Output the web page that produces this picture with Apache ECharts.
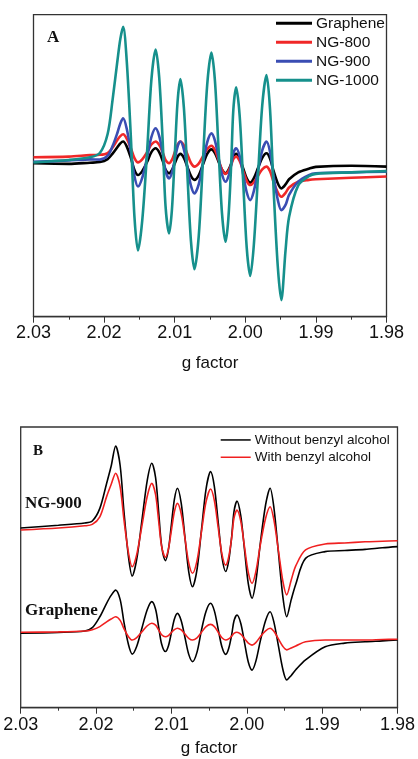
<!DOCTYPE html>
<html><head><meta charset="utf-8">
<script src="https://cdn.jsdelivr.net/npm/echarts@6/dist/echarts.min.js"></script>
<style>html,body{margin:0;padding:0;background:#fff}#c{width:418px;height:759px}</style>
</head><body><div id="c"></div>
<script>
// Panel A: g-factor grid and intensities (arb. units, 0-100 of plot height)
const gA = [2.030, 2.025, 2.022, 2.0206, 2.0195, 2.0188, 2.0181, 2.0177, 2.0173, 2.0168, 2.0162, 2.0157, 2.0152, 2.0146, 2.0139, 2.0133, 2.0127, 2.0122, 2.0117, 2.0113, 2.0108, 2.0104, 2.0100, 2.0096, 2.0092, 2.0087, 2.0082, 2.0077, 2.0072, 2.0066, 2.0060, 2.0054, 2.0048, 2.0043, 2.0038, 2.0033, 2.0028, 2.0024, 2.0020, 2.0017, 2.0013, 2.0008, 2.0003, 1.9998, 1.9993, 1.9988, 1.9982, 1.9976, 1.9970, 1.9965, 1.9960, 1.9954, 1.9949, 1.9943, 1.9938, 1.9925, 1.9910, 1.9900, 1.9850, 1.9800];
const graphene = [50.8, 50.6, 51.0, 51.2, 52.2, 54.0, 56.2, 57.4, 58.0, 56.4, 52.5, 48.6, 46.9, 48.2, 51.3, 54.5, 55.8, 54.5, 51.6, 48.7, 47.5, 48.5, 50.7, 52.9, 53.9, 52.6, 49.6, 46.6, 45.3, 46.8, 50.4, 53.9, 55.4, 54.2, 51.4, 48.7, 47.5, 48.5, 50.7, 52.9, 53.9, 52.5, 49.1, 45.8, 44.4, 45.8, 49.2, 52.6, 54.1, 52.4, 48.3, 44.2, 42.5, 43.8, 45.5, 47.8, 49.0, 49.6, 50.0, 49.7];
const ng800 = [52.8, 53.0, 53.5, 53.6, 54.2, 56.0, 58.6, 59.8, 60.4, 59.0, 55.7, 52.5, 51.1, 52.1, 54.5, 57.0, 58.0, 56.9, 54.4, 51.9, 50.8, 51.9, 54.4, 56.9, 58.0, 56.7, 53.8, 50.9, 49.7, 50.7, 53.1, 55.5, 56.6, 55.2, 52.0, 48.7, 47.3, 48.2, 50.2, 52.2, 53.0, 51.6, 48.3, 45.0, 43.6, 44.5, 46.7, 48.8, 49.7, 48.2, 44.7, 41.2, 39.7, 41.0, 42.8, 44.7, 45.3, 45.5, 46.0, 46.4];
const ng900 = [51.3, 51.7, 52.1, 52.0, 53.3, 56.5, 61.0, 64.0, 65.7, 62.3, 54.4, 46.5, 43.1, 46.0, 52.8, 59.5, 62.4, 59.9, 54.1, 48.3, 45.8, 47.6, 51.9, 56.2, 58.0, 55.4, 49.4, 43.4, 40.8, 43.8, 50.8, 57.7, 60.7, 58.3, 52.7, 47.1, 44.7, 46.4, 50.3, 54.2, 55.8, 53.2, 47.2, 41.2, 38.6, 41.5, 48.3, 55.1, 58.0, 54.6, 46.7, 38.7, 35.3, 37.0, 40.3, 44.7, 46.9, 47.5, 47.8, 48.0];
const ng1000 = [51.1, 51.9, 52.8, 54.2, 60.5, 71.8, 85.0, 92.0, 96.0, 84.9, 59.0, 33.0, 21.9, 31.8, 55.0, 78.5, 88.5, 79.4, 58.0, 36.7, 27.6, 35.2, 53.0, 71.0, 78.7, 69.2, 47.0, 25.1, 15.7, 26.5, 51.6, 76.7, 87.5, 78.1, 56.0, 34.2, 24.8, 32.5, 50.4, 68.3, 76.0, 66.6, 44.7, 22.9, 13.5, 23.5, 46.7, 70.0, 80.0, 68.8, 42.7, 16.7, 5.5, 22.0, 33.0, 43.5, 46.5, 47.3, 47.8, 48.2];

// Panel B
const gB = [2.030, 2.025, 2.0215, 2.0205, 2.0195, 2.0186, 2.0180, 2.0174, 2.0168, 2.0163, 2.0157, 2.0152, 2.0146, 2.0139, 2.0132, 2.0126, 2.0121, 2.0117, 2.0113, 2.0108, 2.0104, 2.0100, 2.0096, 2.0092, 2.0087, 2.0082, 2.0077, 2.0072, 2.0066, 2.0060, 2.0054, 2.0048, 2.0043, 2.0038, 2.0033, 2.0028, 2.0024, 2.0020, 2.0017, 2.0013, 2.0008, 2.0003, 1.9998, 1.9993, 1.9988, 1.9982, 1.9975, 1.9969, 1.9964, 1.9958, 1.9952, 1.9947, 1.9941, 1.9935, 1.9922, 1.9896, 1.9870, 1.9843, 1.9820, 1.9800];
const ng900Without = [64.0, 65.0, 65.8, 66.5, 71.0, 79.9, 86.0, 93.2, 86.2, 70.0, 53.8, 46.9, 52.9, 67.0, 81.1, 87.1, 82.0, 70.0, 57.7, 52.4, 56.3, 65.3, 74.3, 78.2, 72.9, 60.6, 48.4, 43.1, 49.3, 63.6, 78.0, 84.1, 78.8, 66.3, 53.8, 48.5, 52.3, 61.0, 69.8, 73.6, 68.4, 56.3, 44.2, 39.0, 44.9, 58.6, 72.3, 78.2, 71.3, 55.3, 39.3, 32.4, 38.5, 44.0, 53.2, 55.6, 56.0, 56.4, 57.0, 57.4];
const ng900With = [63.3, 64.0, 64.8, 65.3, 68.0, 75.2, 79.5, 83.5, 78.6, 67.0, 55.2, 50.2, 54.6, 65.0, 75.4, 79.9, 75.9, 66.7, 57.5, 53.6, 56.5, 63.2, 69.9, 72.8, 69.1, 60.3, 51.6, 47.9, 52.4, 62.9, 73.4, 77.9, 73.8, 64.3, 54.8, 50.8, 53.7, 60.6, 67.5, 70.4, 66.5, 57.3, 48.2, 44.3, 48.4, 58.0, 67.5, 71.6, 66.9, 56.0, 44.9, 40.2, 45.5, 50.5, 56.2, 58.3, 58.7, 59.1, 59.3, 59.5];
const grWithout = [26.5, 26.8, 27.3, 28.5, 32.4, 37.2, 40.0, 41.9, 38.5, 30.5, 22.5, 19.1, 21.9, 28.5, 35.0, 37.8, 35.1, 28.9, 22.7, 20.0, 22.0, 26.8, 31.6, 33.6, 31.0, 25.0, 19.0, 16.4, 19.8, 27.8, 34.4, 37.2, 34.5, 28.1, 21.7, 19.0, 21.1, 26.0, 30.9, 33.0, 30.1, 23.2, 16.3, 13.4, 16.5, 23.8, 31.1, 34.2, 30.5, 22.0, 13.5, 9.9, 11.5, 13.5, 17.0, 21.7, 23.0, 23.5, 23.8, 24.1];
const grWith = [26.9, 27.0, 27.3, 27.8, 28.9, 30.6, 31.6, 32.4, 31.1, 28.2, 25.3, 24.1, 25.0, 27.1, 29.2, 30.1, 29.4, 27.7, 26.0, 25.3, 25.7, 26.8, 27.8, 28.3, 27.7, 26.2, 24.7, 24.1, 24.9, 26.9, 28.9, 29.7, 28.9, 26.9, 24.9, 24.1, 24.5, 25.5, 26.5, 26.9, 26.2, 24.6, 23.0, 22.3, 23.2, 25.3, 27.4, 28.3, 27.2, 24.5, 21.8, 20.6, 21.3, 22.0, 23.5, 24.1, 24.1, 24.1, 24.3, 24.4];

const xTicks = ['2.03', '2.02', '2.01', '2.00', '1.99', '1.98'];
const namesA = ['Graphene', 'NG-800', 'NG-900', 'NG-1000'];
const namesB = ['Without benzyl alcohol', 'With benzyl alcohol'];

const pair = (g, v) => g.map((x, i) => [x, v[i]]);
const SANS = 'Liberation Sans, Arial, sans-serif';
const SERIF = 'Liberation Serif, Times New Roman, serif';

function xAxisCfg(gi, margin, nameGap) {
  return {
    gridIndex: gi, type: 'value', min: 1.98, max: 2.03, interval: 0.01, inverse: true,
    name: 'g factor', nameLocation: 'middle', nameGap: nameGap,
    nameTextStyle: { fontFamily: SANS, fontSize: 17, color: '#111' },
    axisLine: { show: true, onZero: false, lineStyle: { color: '#333', width: 1.3 } },
    axisTick: { show: true, inside: false, length: 6, lineStyle: { color: '#333', width: 1 } },
    minorTick: { show: true, splitNumber: 2, length: 3, lineStyle: { color: '#333', width: 1 } },
    splitLine: { show: false }, minorSplitLine: { show: false },
    axisLabel: { margin: margin, fontFamily: SANS, fontSize: 18, color: '#111',
      formatter: v => { const s = v.toFixed(2); return xTicks.indexOf(s) >= 0 ? s : ''; } }
  };
}
function yAxisCfg(gi) {
  return { gridIndex: gi, type: 'value', min: 0, max: 100, axisLine: { show: false },
    axisTick: { show: false }, axisLabel: { show: false }, splitLine: { show: false } };
}

const colorsA = ['#000000', '#f02828', '#3a4db3', '#16908c'];
const dataA = [graphene, ng800, ng900, ng1000];
const seriesA = namesA.map((n, i) => ({
  name: n, type: 'line', xAxisIndex: 0, yAxisIndex: 0, symbol: 'none', smooth: 0.3,
  data: pair(gA, dataA[i]), lineStyle: { color: colorsA[i], width: 2.6 }, itemStyle: { color: colorsA[i] },
  z: 2 + i, animation: false
}));
const colorsB = ['#000000', '#f02020'];
const seriesB = [
  { name: namesB[0], d: ng900Without, c: 0 }, { name: namesB[1], d: ng900With, c: 1 },
  { name: namesB[0], d: grWithout, c: 0 }, { name: namesB[1], d: grWith, c: 1 }
].map((s, i) => ({
  name: s.name, type: 'line', xAxisIndex: 1, yAxisIndex: 1, symbol: 'none', smooth: 0.3,
  data: pair(gB, s.d), lineStyle: { color: colorsB[s.c], width: 1.6 }, itemStyle: { color: colorsB[s.c] },
  z: 2 + s.c, animation: false
}));

const chart = echarts.init(document.getElementById('c'), null, { renderer: 'canvas' });
chart.setOption({
  animation: false,
  backgroundColor: '#fff',
  grid: [
    { left: 33.5, right: 31.5, top: 14.7, bottom: 442.3, show: true, borderColor: '#333', borderWidth: 1.3, backgroundColor: 'transparent' },
    { left: 20.7, right: 19, top: 427, bottom: 51.3, show: true, borderColor: '#333', borderWidth: 1.3, backgroundColor: 'transparent' }
  ],
  xAxis: [xAxisCfg(0, 7, 38), xAxisCfg(1, 8, 32)],
  yAxis: [yAxisCfg(0), yAxisCfg(1)],
  legend: [
    { data: namesA, orient: 'vertical', left: 276, top: 13.8, padding: 0, itemGap: 0,
      itemWidth: 36, itemHeight: 3, icon: 'rect',
      textStyle: { fontFamily: SANS, fontSize: 15.5, lineHeight: 19, color: '#111', padding: [0, 0, 0, -1] } },
    { data: namesB, orient: 'vertical', left: 220.7, top: 431.3, padding: 0, itemGap: 0,
      itemWidth: 30, itemHeight: 1.5, icon: 'rect',
      textStyle: { fontFamily: SANS, fontSize: 13.5, lineHeight: 17.3, color: '#111', padding: [0, 0, 0, -1] } }
  ],
  graphic: [
    { type: 'text', left: 47, top: 29, style: { text: 'A', font: 'bold 17px ' + SERIF, fill: '#111' } },
    { type: 'text', left: 33, top: 444, style: { text: 'B', font: 'bold 15px ' + SERIF, fill: '#111' } },
    { type: 'text', left: 25, top: 495, style: { text: 'NG-900', font: 'bold 17px ' + SERIF, fill: '#111' } },
    { type: 'text', left: 25, top: 602, style: { text: 'Graphene', font: 'bold 17px ' + SERIF, fill: '#111' } }
  ],
  series: seriesA.concat(seriesB)
});
</script></body></html>
